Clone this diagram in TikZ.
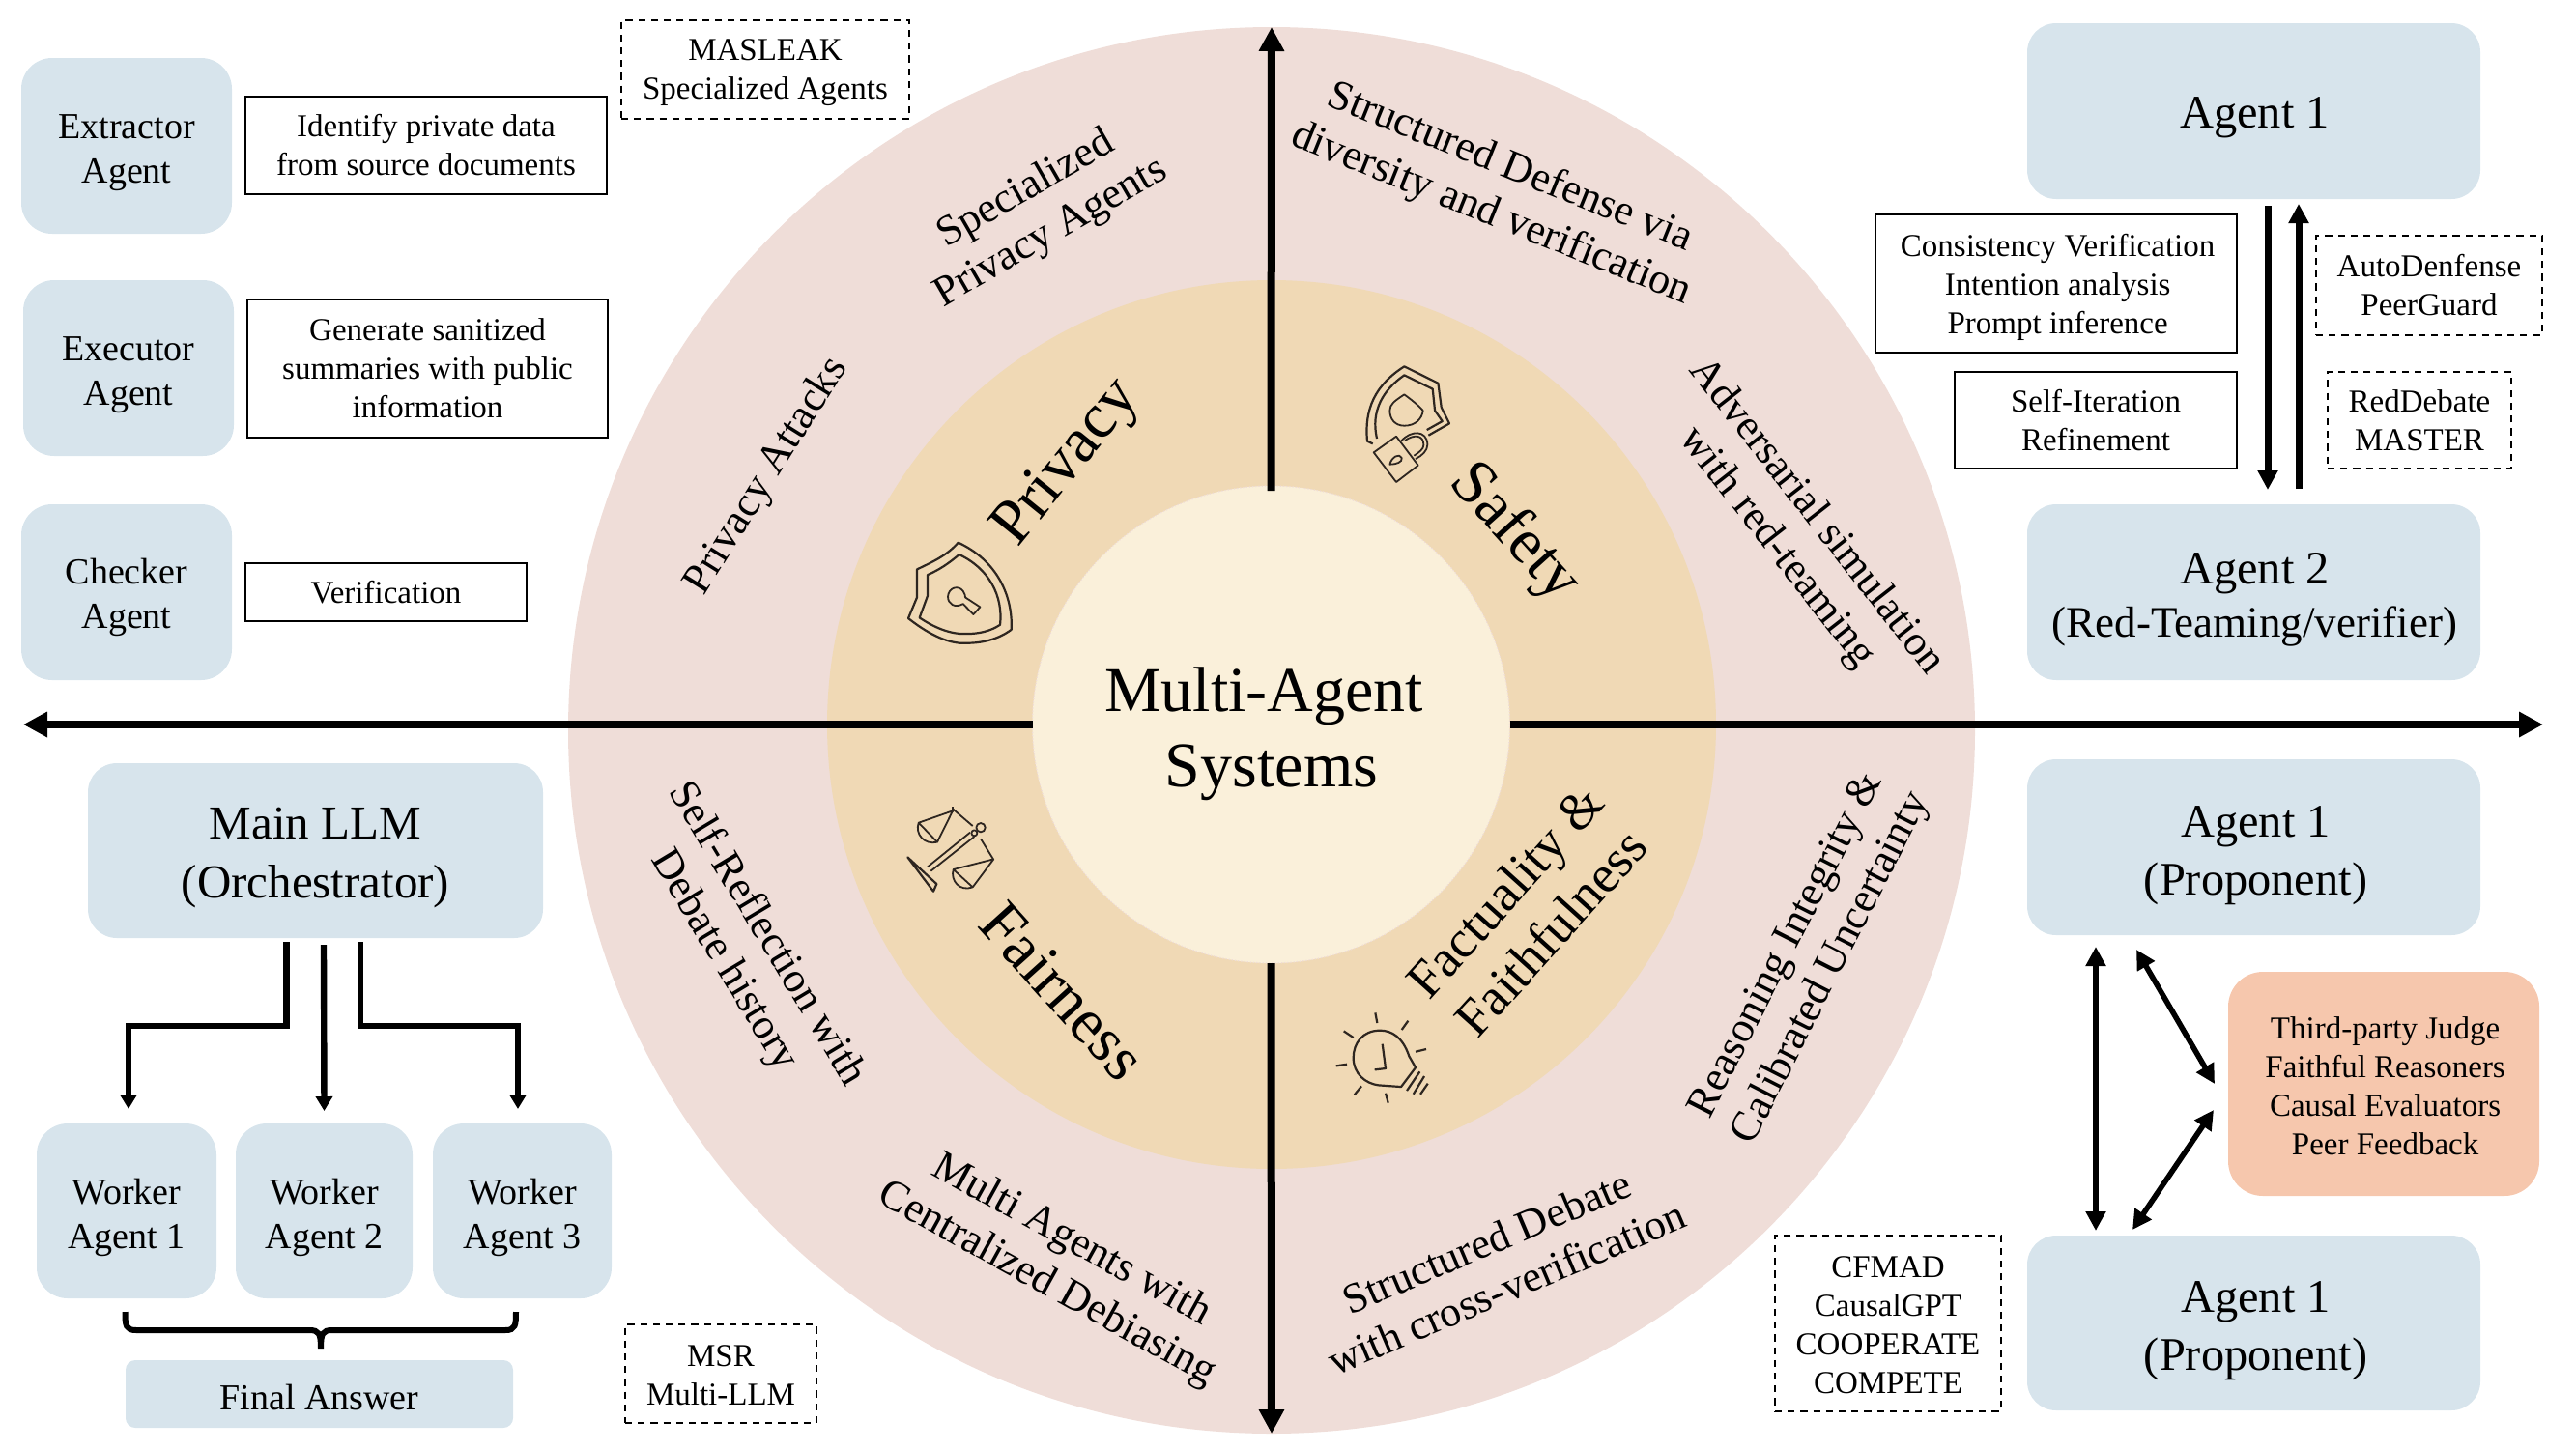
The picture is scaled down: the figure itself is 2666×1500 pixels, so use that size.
\documentclass[tikz,border=0pt]{standalone}
\usepackage{fontspec}
\setmainfont{Liberation Serif}
\usetikzlibrary{arrows.meta,calc}
\definecolor{ringout}{HTML}{EFDDD8}
\definecolor{ringmid}{HTML}{F0D9B5}
\definecolor{ringcore}{HTML}{FAF0DA}
\definecolor{agentblue}{HTML}{D7E4EC}
\definecolor{judgeorange}{HTML}{F6C7AD}
\definecolor{iconink}{HTML}{2E2620}
\newcommand{\fsz}[2]{\fontsize{#1}{#2}\selectfont}
\newcommand{\bx}[8][]{%
  \pgfmathsetmacro{\bw}{(#5-#3)*0.5}\pgfmathsetmacro{\bh}{(#6-#4)*0.5}%
  \node[#7,minimum width=\bw pt,minimum height=\bh pt] (#2) at ({(#3+#5)/2},{(#4+#6)/2}) {};
  \node[#7,fill=none,draw=none,#1] (#2t) at (#2.center) {#8};}
\tikzset{
  base/.style={inner sep=0pt,outer sep=0pt,align=center,text=black},
  agentbig/.style={base,fill=agentblue,rounded corners=15pt,font=\fsz{24.2}{30}},
  agentmain/.style={base,fill=agentblue,rounded corners=15pt,font=\fsz{24.5}{30.5}},
  agentmid/.style={base,fill=agentblue,rounded corners=16pt,font=\fsz{19}{23}},
  finalbox/.style={base,fill=agentblue,rounded corners=5pt,font=\fsz{19}{23}},
  judgebox/.style={base,fill=judgeorange,rounded corners=18pt,font=\fsz{16.5}{20}},
  descbox/.style={base,draw=black,line width=0.9pt,font=\fsz{16.5}{20}},
  refbox/.style={base,draw=black,line width=0.8pt,dash pattern=on 3.6pt off 3pt,font=\fsz{16.5}{20}},
  ringtext/.style={base,font=\fsz{22}{26}},
  dimtext/.style={base,font=\fsz{33}{38}},
  bigarrow/.style={line width=4pt,-{Triangle[length=12.5pt,width=12.5pt]}},
  floww/.style={line width=3.2pt,-{Triangle[length=7.5pt,width=8.5pt]}},
  pairarrow/.style={line width=3.5pt,-{Triangle[length=10pt,width=10pt]}},
  duplex/.style={line width=2.8pt,{Triangle[length=10pt,width=10pt]}-{Triangle[length=10pt,width=10pt]}},
  bracel/.style={line width=3pt},
  icon/.style={draw=iconink,line width=1.1pt,line join=round},
  iconthin/.style={draw=iconink,line width=0.9pt,line join=round}
}
\begin{document}
\begin{tikzpicture}[x=0.5pt,y=-0.5pt]
\useasboundingbox (0,0) rectangle (2666,1500);
% rings
\fill[ringout] (1316,756) circle[radius=728];
\fill[ringmid] (1316,750) circle[radius=460];
\node[circle,fill=ringcore,draw=ringout,densely dotted,line width=0.6pt,minimum size=247pt,inner sep=0pt,outer sep=0pt] (core) at (1315.5,750) {};
\node[base,font=\fsz{33}{39.2}] (coretext) at (1308,760) {Multi-Agent\\[0pt]\hspace*{8pt}Systems};
% axes
\coordinate (tipN) at (1316,28);
\coordinate (tipS) at (1316,1484);
\coordinate (tipW) at (24,750);
\coordinate (tipE) at (2632,750);
\draw[bigarrow,shorten <=-2.5pt] (core.north) -- (tipN);
\draw[bigarrow] (core.south) -- (tipS);
\draw[bigarrow] (core.west) -- (tipW);
\draw[bigarrow] (core.east) -- (tipE);
% dimension labels
\node[dimtext,rotate=51] (dprivacy) at (1105,480) {Privacy};
\node[dimtext,rotate=-48] (dsafety) at (1567,552) {Safety};
\node[dimtext,rotate=-48] (dfair) at (1100,1026) {Fairness};
\node[base,font=\fsz{27.2}{32},rotate=48] (dfact) at (1581,944) {Factuality \&\\Faithfulness};
% ring labels
\node[ringtext,rotate=30] (r1) at (1075,219) {Specialized\\Privacy Agents};
\node[ringtext,rotate=58] (r2) at (794,493) {Privacy Attacks};
\node[ringtext,rotate=-22] (r3) at (1553,198) {Structured Defense via\\diversity and verification};
\node[ringtext,rotate=-52] (r4) at (1859,551) {Adversarial simulation\\with red-teaming};
\node[ringtext,rotate=-59] (r5) at (771,981) {Self-Reflection with\\Debate history};
\node[ringtext,rotate=-29] (r6) at (1096,1307) {Multi Agents with\\Centralized Debiasing};
\node[ringtext,rotate=23] (r7) at (1549,1309) {Structured Debate\\with cross-verification};
\node[ringtext,rotate=63] (r8) at (1873,991) {Reasoning Integrity \&\\Calibrated Uncertainty};
% top-left
\bx[yshift=-3.4pt]{ext}{22}{60}{240}{242}{agentmid}{Extractor\\Agent}
\bx[yshift=-3.4pt]{exe}{24}{290}{242}{472}{agentmid}{Executor\\Agent}
\bx[yshift=-2.6pt]{chk}{22}{522}{240}{704}{agentmid}{Checker\\Agent}
\bx{d1}{254}{100}{628}{201}{descbox}{Identify private data\\from source documents}
\bx{d2}{256}{310}{629}{453}{descbox}{Generate sanitized\\summaries with public\\information}
\bx{d3}{254}{583}{545}{643}{descbox}{Verification}
\bx[yshift=-1.7pt]{masleak}{643}{21}{941}{123}{refbox}{MASLEAK\\Specialized Agents}
% top-right
\bx[yshift=-3.4pt,xshift=0.5pt]{a1}{2098}{24}{2567}{206}{agentbig}{Agent 1}
\bx[yshift=-3.8pt,xshift=0.5pt]{a2}{2098}{522}{2567}{704}{agentbig,font=\fsz{24.2}{27.5}}{Agent 2\\{\fsz{22.5}{27.5}(Red-Teaming/verifier)}}
\bx[yshift=-1.7pt,xshift=0.8pt]{d4}{1941}{222}{2315}{365}{descbox}{Consistency Verification\\Intention analysis\\Prompt inference}
\bx{d5}{2023}{385}{2315}{485}{descbox}{Self-Iteration\\Refinement}
\bx{autod}{2397}{244}{2631}{347}{refbox}{AutoDenfense\\PeerGuard}
\bx{redd}{2409}{385}{2599}{485}{refbox}{RedDebate\\MASTER}
\draw[pairarrow] ([xshift=7.25pt,yshift=-3.5pt]a1.south) -- ([xshift=7.25pt,yshift=7.5pt]a2.north);
\draw[pairarrow] ([xshift=23.25pt,yshift=8pt]a2.north) -- ([xshift=23.25pt,yshift=-2.5pt]a1.south);
% bottom-right
\bx[yshift=-4.2pt,xshift=1pt]{a3}{2098}{786}{2567}{968}{agentbig}{Agent 1\\(Proponent)}
\bx[yshift=-4.2pt,xshift=1pt]{a4}{2098}{1279}{2567}{1460}{agentbig}{Agent 1\\(Proponent)}
\bx[yshift=-1.2pt,xshift=0.8pt]{judge}{2306}{1006}{2628}{1238}{judgebox}{Third-party Judge\\Faithful Reasoners\\Causal Evaluators\\Peer Feedback}
\bx[yshift=-0.8pt]{cfmad}{1837}{1279}{2071}{1461}{refbox}{CFMAD\\CausalGPT\\COOPERATE\\COMPETE}
\draw[duplex] ([xshift=-81.75pt,yshift=-6pt]a3.south) -- ([xshift=-81.75pt,yshift=2.5pt]a4.north);
\draw[duplex] ([xshift=-60.75pt,yshift=-7.5pt]a3.south) -- ([xshift=-7pt]judge.west);
\draw[duplex] ([xshift=-7.5pt,yshift=-13.5pt]judge.west) -- ([xshift=-62.75pt,yshift=3pt]a4.north);
% bottom-left
\bx[yshift=-3.8pt]{main}{91}{790}{562}{971}{agentmain}{Main LLM\\(Orchestrator)}
\bx[yshift=-3.4pt]{w1}{38}{1163}{224}{1344}{agentmid}{Worker\\Agent 1}
\bx[yshift=-3.4pt]{w2}{244}{1163}{427}{1344}{agentmid}{Worker\\Agent 2}
\bx[yshift=-3.4pt]{w3}{448}{1163}{633}{1344}{agentmid}{Worker\\Agent 3}
\bx[yshift=-1.7pt]{final}{130}{1408}{531}{1478}{finalbox}{Final Answer}
\bx[yshift=-0.8pt]{msr}{647}{1371}{845}{1473}{refbox}{MSR\\Multi-LLM}
\coordinate (jL) at (296.5,1062);
\coordinate (jR) at (373,1062);
\draw[floww] ([xshift=-15pt,yshift=-2pt]main.south) -- (jL) -| ([xshift=1pt,yshift=7.5pt]w1.north);
\draw[floww] ([xshift=4.25pt,yshift=-3.5pt]main.south) -- ([xshift=0pt,yshift=6.5pt]w2.north);
\draw[floww] ([xshift=23.25pt,yshift=-2pt]main.south) -- (jR) -| ([xshift=-2.25pt,yshift=7.5pt]w3.north);
\coordinate (bL) at (129.5,1358);
\coordinate (bR) at (534,1358);
\coordinate (bM) at (332,1396);
\draw[bracel] (bL) .. controls (129.5,1372) and (130,1377) .. (141,1377) -- (320,1377) .. controls (330,1377) and (332,1380) .. (bM)
  (bR) .. controls (534,1372) and (533.5,1377) .. (523,1377) -- (344,1377) .. controls (334,1377) and (332,1380) .. (bM);
% icon: privacy shield
\begin{scope}[shift={(850,300)},x=0.1667pt,y=-0.1667pt]
\draw[icon] (425,785) .. controls (390,825) and (345,845) .. (297,868) -- (297,955) -- (270,1020)
  .. controls (340,1075) and (400,1100) .. (450,1097) .. controls (500,1097) and (550,1085) .. (590,1055)
  .. controls (595,950) and (545,840) .. (425,785) -- cycle;
\draw[icon] (428,822) .. controls (395,850) and (365,870) .. (330,885) -- (330,950) -- (305,1018)
  .. controls (360,1055) and (410,1070) .. (450,1068) .. controls (490,1068) and (525,1060) .. (555,1040)
  .. controls (565,950) and (520,865) .. (428,822) -- cycle;
\draw[iconthin] (440,975) .. controls (415,990) and (392,975) .. (393,952) .. controls (395,925) and (425,915) .. (440,935) .. controls (445,945) and (448,950) .. (447,955) -- (493,985) -- (472,1008) -- cycle;
\end{scope}
% icon: safety
\begin{scope}[shift={(1300,350)},x=0.1667pt,y=-0.1667pt]
\draw[icon] (362,328) -- (345,320) .. controls (335,220) and (370,145) .. (460,88) -- (565,140) -- (575,215) -- (600,265) -- (535,302);
\draw[icon] (375,312) .. controls (355,225) and (395,160) .. (460,115) -- (548,158) -- (555,225) -- (578,258) -- (530,285);
\draw[iconthin] (460,175) .. controls (430,195) and (415,205) .. (415,225) .. controls (415,250) and (430,272) .. (460,272) .. controls (495,272) and (515,250) .. (518,225) .. controls (500,205) and (480,190) .. (460,175) -- cycle;
\draw[iconthin] (365,355) -- (435,305) -- (503,395) -- (435,447) -- cycle;
\draw[iconthin] (450,320) .. controls (480,285) and (530,285) .. (532,330) .. controls (532,350) and (515,365) .. (495,375);
\draw[iconthin] (462,318) .. controls (490,298) and (520,300) .. (520,332) .. controls (520,345) and (505,355) .. (490,365);
\draw[iconthin] (415,392) .. controls (420,370) and (445,355) .. (452,372) .. controls (455,385) and (435,392) .. (415,392) -- cycle;
\end{scope}
% icon: scales
\begin{scope}[shift={(880,800)},x=0.1667pt,y=-0.1667pt]
\draw[icon] (178,262) -- (268,345) -- (258,368) -- cycle;
\draw[iconthin] (240,292) -- (372,185) (250,305) -- (385,198);
\draw[iconthin] (385,187) circle[radius=9];
\draw[iconthin] (405,170) circle[radius=14];
\draw[iconthin] (318,105) -- (318,122) (318,112) -- (380,165) (405,205) -- (445,270);
\draw[iconthin] (318,118) -- (212,155) (318,118) -- (270,215) (212,155) .. controls (200,190) and (230,225) .. (270,215) -- cycle;
\draw[iconthin] (445,268) -- (320,300) (445,268) -- (380,355) (320,300) .. controls (310,335) and (340,370) .. (380,355) -- cycle;
\end{scope}
% icon: bulb
\begin{scope}[shift={(1350,950)},x=0.1667pt,y=-0.1667pt]
\draw[icon] (345,465) -- (325,430) .. controls (305,370) and (270,350) .. (235,350) .. controls (180,350) and (152,390) .. (152,435) .. controls (152,485) and (190,515) .. (230,520) -- (300,525) -- cycle;
\draw[icon] (242,392) -- (252,468) -- (218,472);
\draw[icon] (358,478) -- (318,537) (372,492) -- (338,548) (383,515) -- (360,548);
\draw[icon] (220,295) -- (226,327) (322,320) -- (302,348) (378,408) -- (345,416) (132,455) -- (98,460) (177,523) -- (155,550) (252,545) -- (260,575) (122,352) -- (152,372);
\end{scope}
\end{tikzpicture}
\end{document}
